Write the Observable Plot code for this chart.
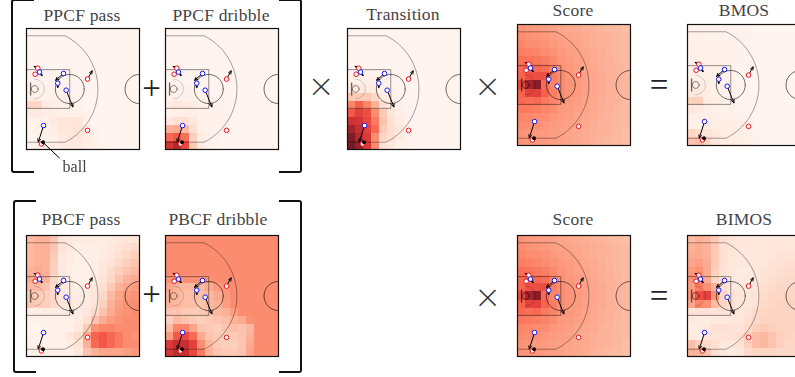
<!DOCTYPE html>
<html><head><meta charset="utf-8">
<script src="https://cdn.jsdelivr.net/npm/d3@7"></script>
<script src="https://cdn.jsdelivr.net/npm/@observablehq/plot@0.6"></script>
<style>
html,body{margin:0;padding:0;background:#fff;overflow:hidden}
#stage{position:relative;width:795px;height:377px;overflow:hidden;font-family:"Liberation Serif",serif;color:#444}
.panel{position:absolute;filter:blur(.3px)}
.panel svg{display:block;background:transparent}
.title{position:absolute;transform:translate(-50%,-50%);font-size:17.5px;white-space:nowrap;letter-spacing:.2px;line-height:1.05}
.op{position:absolute;transform:translate(-50%,-50%);font-size:33px;line-height:1;color:#222}
.op.x{font-size:40px;color:#333;font-family:"Lato","Liberation Serif",serif;font-weight:300}
.br{position:absolute;width:23px;border:2px solid #111;box-sizing:border-box}
.br.l{border-right:none;border-radius:3px 0 0 3px}
.br.r{border-left:none;border-radius:0 3px 3px 0}
</style></head><body><div id="stage"></div>
<script>
// Heat values on a 14 x 15 grid of half-court zones (percent of the colour range)
const ppcfPass = [
[1,1,1,1,1,1,1,1,1,1,1,1,1,1],[1,1,1,1,1,1,1,1,1,1,1,1,1,1],[1,1,1,1,1,1,1,1,1,1,1,1,1,1],
[1,1,1,1,1,1,1,1,1,1,1,1,1,1],[1,1,1,1,1,1,1,1,1,1,1,1,1,1],[1,1,1,1,1,1,1,1,1,1,1,1,1,1],
[2,2,2,1,1,1,1,1,1,1,1,1,1,1],[3,3,2,2,2,1,1,1,1,1,1,1,1,1],[5,5,4,4,3,2,1,1,1,1,1,1,1,1],
[16,15,7,5,4,3,2,1,1,1,1,1,1,1],[7,7,5,5,4,4,4,2,1,1,1,1,1,1],[2,3,4,7,9,9,9,4,1,1,1,1,1,1],
[1,3,4,5,9,9,10,5,2,1,1,1,1,1],[1,2,3,4,7,9,9,5,3,1,1,1,1,1],[2,3,4,5,7,7,7,5,4,2,1,1,1,1]];
const ppcfDribble = [
[1,1,1,1,1,1,1,1,1,1,1,1,1,1],[1,1,1,1,1,1,1,1,1,1,1,1,1,1],[1,1,1,1,1,1,1,1,1,1,1,1,1,1],
[1,1,1,1,1,1,1,1,1,1,1,1,1,1],[1,1,1,1,1,1,1,1,1,1,1,1,1,1],[1,1,1,1,1,1,1,1,1,1,1,1,1,1],
[1,1,1,1,1,1,1,1,1,1,1,1,1,1],[2,2,2,2,1,1,1,1,1,1,1,1,1,1],[3,3,3,3,3,2,1,1,1,1,1,1,1,1],
[6,8,7,6,4,3,2,1,1,1,1,1,1,1],[3,4,5,5,4,3,3,2,1,1,1,1,1,1],[8,12,12,8,3,3,2,2,1,1,1,1,1,1],
[28,30,25,12,4,3,2,2,1,1,1,1,1,1],[50,55,48,18,6,3,2,1,1,1,1,1,1,1],[68,78,60,20,6,3,2,1,1,1,1,1,1,1]];
const transition = [
[1,1,1,1,1,1,1,1,1,1,1,1,1,1],[1,1,1,1,1,1,1,1,1,1,1,1,1,1],[1,1,1,1,1,1,1,1,1,1,1,1,1,1],
[1,1,1,1,1,1,1,1,1,1,1,1,1,1],[1,1,1,1,1,1,1,1,1,1,1,1,1,1],[2,2,2,1,1,1,1,1,1,1,1,1,1,1],
[3,3,3,3,2,1,1,1,1,1,1,1,1,1],[7,7,7,6,3,2,1,1,1,1,1,1,1,1],[20,20,20,15,6,3,2,1,1,1,1,1,1,1],
[42,52,42,28,12,6,3,2,1,1,1,1,1,1],[55,62,58,40,20,10,5,2,1,1,1,1,1,1],[70,68,60,45,22,12,6,2,1,1,1,1,1,1],
[82,72,62,50,20,12,8,3,1,1,1,1,1,1],[90,78,65,40,16,12,6,2,1,1,1,1,1,1],[95,85,65,40,10,8,4,2,1,1,1,1,1,1]];
const score = [
[38,36,35,34,33,32,31,30,29,28,27,26,25,24],[40,38,37,36,34,33,32,31,30,29,28,27,26,25],
[42,40,39,38,36,34,33,32,30,29,28,27,26,25],[44,43,42,40,38,36,34,33,31,30,29,27,26,25],
[48,47,46,44,41,37,35,33,32,30,29,28,26,25],[50,50,50,48,42,38,36,34,32,31,29,28,27,25],
[52,58,58,58,44,40,37,35,33,31,30,28,27,26],[60,82,88,50,42,40,37,35,33,31,30,28,27,26],
[52,62,62,52,44,40,37,35,33,31,30,28,27,26],[50,48,50,45,42,38,36,34,32,31,29,28,27,25],
[46,45,44,42,40,36,35,33,32,30,29,28,26,25],[42,41,40,39,37,35,34,32,31,30,28,27,26,25],
[40,39,38,37,35,34,33,31,30,29,28,27,26,25],[38,37,36,35,34,33,32,31,30,29,28,27,26,24],
[38,37,36,35,34,33,32,31,30,28,27,26,25,24]];
const bmos = [
[3,3,2,2,2,2,2,2,1,1,1,1,1,1],[3,3,2,2,2,2,2,2,1,1,1,1,1,1],[3,3,3,2,2,2,2,1,1,1,1,1,1,1],
[3,3,3,2,2,2,2,1,1,1,1,1,1,1],[3,3,3,2,2,2,2,1,1,1,1,1,1,1],[4,4,3,3,2,2,1,1,1,1,1,1,1,1],
[4,4,4,3,2,2,1,1,1,1,1,1,1,1],[6,6,5,4,2,2,1,1,1,1,1,1,1,1],[8,8,6,4,3,2,1,1,1,1,1,1,1,1],
[18,18,6,5,3,2,1,1,1,1,1,1,1,1],[8,7,5,4,3,3,2,1,1,1,1,1,1,1],[5,5,5,5,4,3,3,2,1,1,1,1,1,1],
[3,4,5,5,6,6,5,3,1,1,1,1,1,1],[16,12,10,8,6,5,5,3,2,1,1,1,1,1],[22,24,16,8,7,6,5,4,2,1,1,1,1,1]];
const pbcfPass = [
[25,28,28,22,10,8,6,6,6,6,7,8,9,9],[25,28,28,22,10,8,5,5,5,6,8,10,12,14],
[25,28,28,20,8,6,4,4,5,6,8,12,15,18],[25,28,28,18,8,5,4,4,5,8,10,15,18,22],
[28,30,28,18,8,5,4,4,5,8,14,18,22,25],[30,32,28,15,8,5,4,4,6,10,16,22,28,30],
[25,25,22,14,8,6,5,5,8,12,20,28,32,35],[20,20,18,14,9,7,6,6,9,15,25,32,36,38],
[22,20,18,14,10,8,7,7,10,18,28,34,38,40],[5,5,6,6,6,6,7,8,14,22,30,36,38,40],
[2,2,3,3,3,4,6,12,22,30,35,38,40,40],[1,1,2,2,3,3,8,20,38,42,42,40,40,40],
[2,2,2,3,3,8,14,30,52,55,50,45,40,38],[3,3,3,3,3,6,10,28,50,55,50,45,40,40],
[4,4,3,3,3,4,8,22,28,32,32,32,34,36]];
const pbcfDribble = [
[40,40,40,40,40,40,40,40,40,40,40,40,40,40],[40,40,40,40,40,40,40,40,40,40,40,40,40,40],
[40,40,40,40,40,40,40,40,40,40,40,40,40,40],[40,40,40,40,40,40,40,40,40,40,40,40,40,40],
[40,40,40,40,40,40,40,40,40,40,40,40,40,40],[38,38,38,38,38,38,40,40,40,40,40,40,40,40],
[32,28,26,26,26,30,35,38,40,40,40,40,40,40],[28,26,24,24,24,26,30,36,40,40,40,40,40,40],
[28,26,24,24,22,26,28,34,40,40,40,40,40,40],[22,22,20,20,20,22,26,28,34,40,40,40,40,40],
[18,25,22,20,18,20,22,24,28,30,38,40,40,40],[25,42,42,32,22,20,18,22,24,22,26,40,40,40],
[35,55,60,50,30,22,20,18,20,22,28,40,40,40],[65,72,72,62,40,26,20,18,18,22,30,40,40,40],
[68,75,72,60,45,28,22,20,20,22,32,40,40,40]];
const bimos = [
[25,28,26,20,12,10,9,8,8,8,8,8,8,8],[28,30,28,20,12,10,8,8,8,8,8,9,9,9],
[30,30,28,20,12,9,8,8,8,8,9,10,10,10],[32,34,30,20,12,9,8,8,8,8,10,11,12,12],
[36,38,30,18,11,9,7,7,8,10,11,12,13,13],[38,40,30,16,10,8,7,7,8,11,12,14,14,14],
[35,45,38,28,12,9,8,8,9,12,14,15,15,15],[38,58,62,38,16,10,9,9,10,13,15,16,16,16],
[32,42,38,25,16,12,9,9,11,14,16,17,17,17],[10,10,10,10,10,9,8,10,14,16,17,17,17,17],
[8,6,6,8,8,8,9,12,15,17,17,17,17,17],[6,7,8,12,12,10,10,14,18,20,18,17,17,17],
[7,6,10,10,10,10,12,18,24,26,22,18,17,16],[24,18,14,12,8,8,10,18,24,26,22,18,16,16],
[28,26,22,12,8,6,8,14,16,16,16,15,15,15]];

// Players in feet on the half court: [x, y, velocity tip x, velocity tip y]
const attackers = [[4.7,16.4,3.2,15.7],[3.6,18.9,3.6,18.9],[25.4,20.9,27.3,17.5],[25.4,42.1,25.4,42.1],[6.2,47.7,6.2,47.7]];
const defenders = [[5.4,18.0,6.5,19.5],[15.4,18.6,12.1,21.4],[13.0,22.6,13.0,24.4],[16.5,25.5,19.3,32.4],[7.1,40.1,4.9,46.9]];
const ball = [[6.9,47]];
const ballNote = [[13.8,53.6,7.2,47.4]];

const COURT_X = 47, COURT_Y = 50, COLS = 14, ROWS = 15;
const arc = (cx,cy,r,a0,a1,n=48)=>d3.range(n+1).map(i=>{const a=(a0+(a1-a0)*i/n)*Math.PI/180;return [cx+r*Math.cos(a),cy+r*Math.sin(a)];});
const threeA = Math.asin(22/24.5)*180/Math.PI;
const threeLine = [[0,3],...arc(5.2,25,24.5,-threeA,threeA),[0,47]];
const paint = [[0,17],[18,17],[18,33],[0,33]];
const ftCircle = arc(18,25,6,0,360);
const restricted = arc(3.4,25,4,-90,90);
const hoop = arc(3.4,25,1.4,0,360,24);
const backboard = [[1.7,22.5],[1.7,27.5]];
const midCircle = arc(47,25,6,90,270);

function panel(grid, left, top, note){
  const cells = grid.flatMap((row,r)=>row.map((v,c)=>({v,x1:c*COURT_X/COLS,x2:(c+1)*COURT_X/COLS,y1:r*COURT_Y/ROWS,y2:(r+1)*COURT_Y/ROWS})));
  const line=(pts,op,w=.8)=>Plot.line(pts,{x:d=>d[0],y:d=>d[1],stroke:"#000",strokeOpacity:op,strokeWidth:w});
  const bottom = note?28:0;
  const arrows = p=>Plot.arrow(p.filter(d=>d[0]!==d[2]||d[1]!==d[3]),{x1:d=>d[0],y1:d=>d[1],x2:d=>d[2],y2:d=>d[3],bend:0,stroke:"#000",strokeWidth:1,headLength:5,headAngle:50});
  const dots=(p,c)=>Plot.dot(p,{x:d=>d[0],y:d=>d[1],r:2.3,fill:"#fff",stroke:c,strokeWidth:1});
  const chart = Plot.plot({
    width:113,height:121+bottom,marginTop:0,marginLeft:0,marginRight:0,marginBottom:bottom,
    x:{domain:[0,COURT_X],axis:null},
    y:{domain:[0,COURT_Y],reverse:true,axis:null},
    color:{type:"linear",scheme:"reds",domain:[0,92],clamp:true},
    style:{background:"transparent",overflow:"visible"},
    marks:[
      Plot.rect(cells,{x1:"x1",x2:"x2",y1:"y1",y2:"y2",fill:"v",fillOpacity:.9,shapeRendering:"crispEdges"}),
      line(threeLine,.45), line(paint,.55),
      line(ftCircle,.7), line(restricted,.22), line(hoop,.6), line(backboard,.55,1.4), line(midCircle,.75),
      arrows(attackers), arrows(defenders),
      dots(attackers,"#ee0f1a"), dots(defenders,"#1414f0"),
      Plot.dot(ball,{x:d=>d[0],y:d=>d[1],r:1.9,fill:"#000"}),
      Plot.frame({stroke:"#111",strokeWidth:1.2}),
      ...(note?[
        Plot.link(ballNote,{x1:d=>d[0],y1:d=>d[1],x2:d=>d[2],y2:d=>d[3],stroke:"#000",strokeWidth:1}),
        Plot.text(note,{x:d=>d.x,y:d=>d.y,text:d=>d.text,fontSize:16,fontFamily:"Liberation Serif",fill:"#444"})
      ]:[])
    ]
  });
  chart.classList.add("panel");
  chart.style.left=left+"px"; chart.style.top=top+"px";
  stage.appendChild(chart);
}
const stage=document.getElementById("stage");
const add=(cls,text,x,y)=>{const d=document.createElement("div");d.className=cls;d.textContent=text;d.style.left=x+"px";d.style.top=y+"px";stage.appendChild(d);};
const bracket=(cls,x,y,h)=>{const d=document.createElement("div");d.className="br "+cls;d.style.left=x+"px";d.style.top=y+"px";d.style.height=h+"px";stage.appendChild(d);};

panel(ppcfPass,26,28,[{x:20,y:57,text:"ball"}]);
panel(ppcfDribble,165,28);
panel(transition,347,28);
panel(score,517,24);
panel(bmos,687,24);
panel(pbcfPass,26,235);
panel(pbcfDribble,164.5,235);
panel(score,517,235);
panel(bimos,687,235);

[["PPCF pass",82,15],["PPCF dribble",221,15],["Transition",403,14],["Score",573,10],["BMOS",744,10],
 ["PBCF pass",81,219],["PBCF dribble",218,219],["Score",573,219],["BIMOS",744,219]].forEach(t=>add("title",t[0],t[1],t[2]));
[["+",151.5,88],["×",321,85],["×",487.5,85],["=",659,85],["+",151.5,294],["×",487.5,296],["=",659,296]].forEach(t=>add(t[0]==="×"?"op x":"op",t[0],t[1],t[2]));
bracket("l",11,-1,174); bracket("r",279,-1,174);
bracket("l",13,200,173); bracket("r",279,200,173);
</script></body></html>
